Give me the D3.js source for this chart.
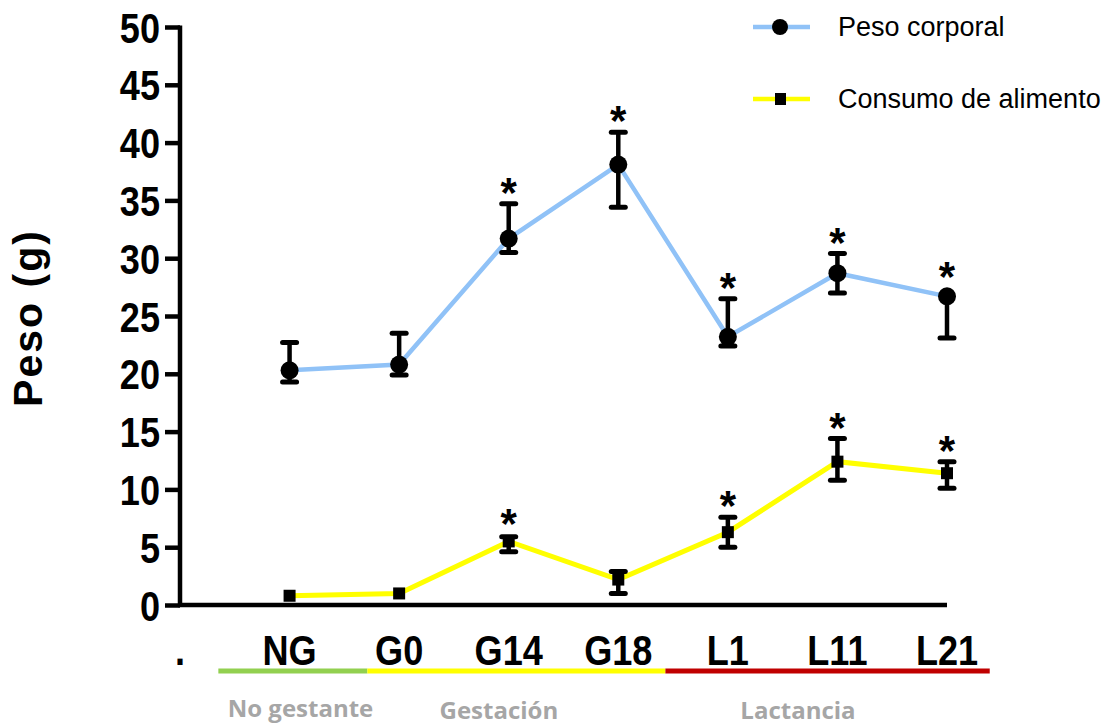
<!DOCTYPE html>
<html>
<head>
<meta charset="utf-8">
<script src="https://cdn.jsdelivr.net/npm/d3@7/dist/d3.min.js"></script>
<style>
  html, body { margin: 0; padding: 0; background: #fff; }
  svg { display: block; }
</style>
</head>
<body>
<svg id="chart" width="1104" height="727"></svg>
<script>
// ---- Data ----
const categories = [".", "NG", "G0", "G14", "G18", "L1", "L11", "L21"];

const pesoMean  = [null, 20.3, 20.8, 31.7, 38.1, 23.2, 28.7, 26.7];
const pesoUpper = [null, 22.7, 23.5, 34.7, 40.9, 26.5, 30.4, 26.7];
const pesoLower = [null, 19.3, 19.9, 30.5, 34.4, 22.4, 27.0, 23.1];
const pesoSig   = [false, false, false, true, true, true, true, true];

const consumoMean  = [null, 0.8, 1.0, 5.5, 2.2, 6.3, 12.4, 11.4];
const consumoUpper = [null, 0.8, 1.0, 5.9, 2.9, 7.6, 14.4, 12.4];
const consumoLower = [null, 0.8, 1.0, 4.6, 1.0, 5.0, 10.8, 10.1];
const consumoSig   = [false, false, false, true, false, true, true, true];

const yTicks = [0, 5, 10, 15, 20, 25, 30, 35, 40, 45, 50];

const seriesNames = ["Peso corporal", "Consumo de alimento"];

const groupLabels = ["No gestante", "Gestación", "Lactancia"];

// ---- Layout ----
const svg = d3.select("#chart");
const x = d3.scalePoint().domain(categories).range([180, 947]).padding(0);
const y = d3.scaleLinear().domain([0, 50]).range([605, 27]);
const idx = d3.scaleLinear().domain([0, categories.length - 1]).range([180, 947]);

const numFont = "'Liberation Sans', Arial, sans-serif";
const squeeze = 0.86;
const blue = "#90c2f7", yellow = "#ffff00";

// Y axis
const yAxis = d3.axisLeft(y).tickValues(yTicks).tickSize(15).tickPadding(6).tickFormat(d3.format("d"));
const gy = svg.append("g").attr("transform", "translate(180,0)").call(yAxis);
gy.select(".domain").attr("stroke", "#000").attr("stroke-width", 4.5).attr("d", `M0,${y(50)-1.5}V${y(0)+2}`);
gy.selectAll(".tick line").attr("stroke", "#000").attr("stroke-width", 4.5);
gy.selectAll(".tick text").attr("font-family", numFont).attr("font-weight", "bold")
  .attr("font-size", 42).attr("fill", "#000").attr("dy", "0.36em")
  .attr("x", -20 / squeeze).attr("transform", `scale(${squeeze},1)`);

// X axis line
svg.append("line").attr("x1", 178).attr("x2", x("L21")).attr("y1", y(0)).attr("y2", y(0))
  .attr("stroke", "#000").attr("stroke-width", 4.5);

// X labels
svg.append("g").selectAll("text").data(categories).join("text")
  .attr("transform", d => `translate(${x(d)},665) scale(${squeeze},1)`)
  .attr("text-anchor", "middle")
  .attr("font-family", numFont).attr("font-weight", "bold").attr("font-size", 42)
  .text(d => d);

// Group bands
const bands = [
  { from: 0.35, to: 1.71, color: "#92d050" },
  { from: 1.71, to: 4.43, color: "#ffff00" },
  { from: 4.43, to: 7.39, color: "#c00000" }
];
svg.append("g").selectAll("line").data(bands).join("line")
  .attr("x1", d => idx(d.from)).attr("x2", d => idx(d.to))
  .attr("y1", 671).attr("y2", 671).attr("stroke", d => d.color).attr("stroke-width", 5);

const groupPos = [{ c: 1.1, b: 717 }, { c: 2.91, b: 719 }, { c: 5.64, b: 719 }];
svg.append("g").selectAll("text").data(groupLabels).join("text")
  .attr("x", (d, i) => idx(groupPos[i].c)).attr("y", (d, i) => groupPos[i].b)
  .attr("text-anchor", "middle").attr("font-family", "'Open Sans', sans-serif")
  .attr("font-weight", "bold").attr("font-size", 24).attr("fill", "#a6a6a6")
  .text(d => d);

// Y axis title
svg.append("text").attr("transform", "translate(42,318) rotate(-90)")
  .attr("text-anchor", "middle").attr("font-family", "'Liberation Sans', Arial, sans-serif")
  .attr("font-weight", "bold").attr("font-size", 41).attr("letter-spacing", 2)
  .text("Peso (g)");

// ---- Series ----
function makeSeries(mean, upper, lower, sig) {
  return categories.map((c, i) => ({ c, m: mean[i], u: upper[i], l: lower[i], s: sig[i] }))
    .filter(d => d.m !== null);
}
const peso = makeSeries(pesoMean, pesoUpper, pesoLower, pesoSig);
const consumo = makeSeries(consumoMean, consumoUpper, consumoLower, consumoSig);

const line = d3.line().x(d => x(d.c)).y(d => y(d.m));

svg.append("path").datum(peso).attr("d", line).attr("fill", "none")
  .attr("stroke", blue).attr("stroke-width", 4.5);
svg.append("path").datum(consumo).attr("d", line).attr("fill", "none")
  .attr("stroke", yellow).attr("stroke-width", 5);

function errorBars(data) {
  const g = svg.append("g").attr("stroke", "#000");
  g.selectAll("line.v").data(data.filter(d => d.u !== d.l)).join("line")
    .attr("x1", d => x(d.c)).attr("x2", d => x(d.c))
    .attr("y1", d => y(d.u)).attr("y2", d => y(d.l)).attr("stroke-width", 4.5);
  const caps = [];
  data.forEach(d => {
    if (d.u > d.m) caps.push({ c: d.c, v: d.u });
    if (d.l < d.m) caps.push({ c: d.c, v: d.l });
  });
  g.selectAll("line.cap").data(caps).join("line")
    .attr("x1", d => x(d.c) - 7).attr("x2", d => x(d.c) + 7)
    .attr("y1", d => y(d.v)).attr("y2", d => y(d.v))
    .attr("stroke-width", 5).attr("stroke-linecap", "round");
}
errorBars(peso);
errorBars(consumo);

svg.append("g").selectAll("circle").data(peso).join("circle")
  .attr("cx", d => x(d.c)).attr("cy", d => y(d.m)).attr("r", 9).attr("fill", "#000");
svg.append("g").selectAll("rect").data(consumo).join("rect")
  .attr("x", d => x(d.c) - 6).attr("y", d => y(d.m) - 6).attr("width", 12).attr("height", 12)
  .attr("fill", "#000");

function asterisks(data, markerHalf) {
  svg.append("g").selectAll("text").data(data.filter(d => d.s)).join("text")
    .attr("x", d => x(d.c))
    .attr("y", d => Math.min(y(d.u), y(d.m) - markerHalf) - 20 + 23)
    .attr("text-anchor", "middle").attr("font-family", "'Liberation Sans', Arial, sans-serif")
    .attr("font-weight", "bold").attr("font-size", 42).text("*");
}
asterisks(peso, 8);
asterisks(consumo, 6);

// ---- Legend ----
const legend = svg.append("g");
const legY = [27, 99];
const legColors = [blue, yellow];
legend.selectAll("line").data(seriesNames).join("line")
  .attr("x1", 753).attr("x2", 810).attr("y1", (d, i) => legY[i]).attr("y2", (d, i) => legY[i])
  .attr("stroke", (d, i) => legColors[i]).attr("stroke-width", 4.5);
legend.append("circle").attr("cx", 780).attr("cy", legY[0]).attr("r", 8).attr("fill", "#000");
legend.append("rect").attr("x", 775).attr("y", legY[1] - 6).attr("width", 11).attr("height", 12).attr("fill", "#000");
legend.selectAll("text").data(seriesNames).join("text")
  .attr("x", 838).attr("y", (d, i) => legY[i] + 9)
  .attr("font-family", "'Liberation Sans', Arial, sans-serif").attr("font-size", 27)
  .text(d => d);
</script>
</body>
</html>
